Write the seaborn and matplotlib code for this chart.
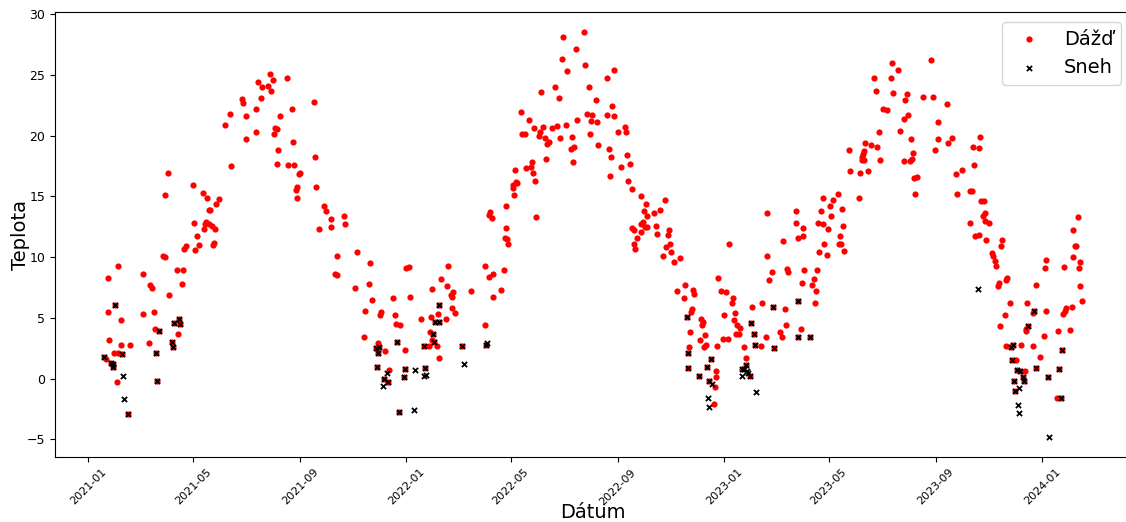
import matplotlib
matplotlib.use("Agg")
import matplotlib.pyplot as plt
import matplotlib.dates as mdates
import seaborn as sns
import pandas as pd

# dni iba s dazdom (datum, teplota)
rain_only = [
    ("2021-04-02", 16.9), ("2021-05-01", 15.9), ("2021-03-30", 15.1), ("2021-05-02", 12.8),
    ("2021-04-21", 10.7), ("2021-04-23", 10.9), ("2021-05-03", 10.6), ("2021-03-28", 10.1),
    ("2021-03-30", 10.0), ("2021-02-04", 9.3), ("2021-01-23", 8.3), ("2021-03-05", 8.6),
    ("2021-04-13", 8.9), ("2021-04-20", 8.9), ("2021-03-13", 7.7), ("2021-03-15", 7.5),
    ("2021-04-19", 7.8), ("2021-04-04", 6.9), ("2021-01-24", 5.5), ("2021-03-05", 5.3),
    ("2021-03-17", 5.5), ("2021-02-07", 4.8), ("2021-03-18", 4.1), ("2021-04-14", 3.7),
    ("2021-01-25", 3.2), ("2021-02-08", 2.8), ("2021-02-18", 2.8), ("2021-03-12", 2.9),
    ("2021-01-30", 2.1), ("2021-02-04", 2.1), ("2021-01-21", 1.6), ("2021-02-03", -0.3),
    ("2021-05-13", 15.3), ("2021-05-17", 14.9), ("2021-05-31", 14.8), ("2021-05-28", 14.4),
    ("2021-05-19", 13.9), ("2021-05-21", 13.9), ("2021-05-16", 12.9), ("2021-05-15", 12.7),
    ("2021-05-19", 12.7), ("2021-05-23", 12.6), ("2021-05-26", 12.3), ("2021-05-14", 12.3),
    ("2021-05-06", 11.7), ("2021-05-08", 11.0), ("2021-05-24", 11.0), ("2021-05-25", 11.2),
    ("2021-06-14", 17.5), ("2021-06-07", 20.9), ("2021-06-13", 21.8), ("2021-06-26", 23.0),
    ("2021-06-27", 22.7), ("2021-07-01", 21.6), ("2021-07-01", 19.7), ("2021-07-12", 20.3),
    ("2021-07-13", 22.2), ("2021-07-18", 23.1), ("2021-07-15", 24.4), ("2021-07-19", 24.0),
    ("2021-07-26", 24.1), ("2021-07-29", 25.1), ("2021-08-01", 24.6), ("2021-07-30", 23.7),
    ("2021-08-17", 24.7), ("2021-08-09", 21.6), ("2021-08-03", 20.6), ("2021-08-05", 20.5),
    ("2021-08-02", 20.1), ("2021-08-23", 22.2), ("2021-08-24", 19.5), ("2021-08-07", 18.8),
    ("2021-08-06", 17.7), ("2021-08-18", 17.6), ("2021-08-25", 17.6), ("2021-09-01", 16.9),
    ("2021-08-31", 16.8), ("2021-08-28", 15.8), ("2021-08-27", 15.5), ("2021-08-28", 14.9),
    ("2021-09-17", 22.8), ("2021-09-18", 18.2), ("2021-09-19", 15.8), ("2021-09-23", 12.3),
    ("2021-09-29", 14.2), ("2021-10-01", 13.8), ("2021-10-07", 13.1), ("2021-10-22", 13.4),
    ("2021-10-07", 12.5), ("2021-10-23", 12.7), ("2021-10-13", 10.1), ("2021-11-05", 10.4),
    ("2021-11-20", 9.5), ("2021-10-11", 8.6), ("2021-10-14", 8.5), ("2021-11-03", 7.5),
    ("2021-11-19", 7.8), ("2022-01-01", 9.1), ("2022-01-04", 9.2), ("2022-02-18", 9.3),
    ("2021-11-23", 6.5), ("2021-12-17", 6.6), ("2022-01-05", 6.7), ("2021-11-15", 5.6),
    ("2021-12-03", 5.5), ("2021-12-02", 5.2), ("2021-12-19", 5.2), ("2021-12-20", 4.5),
    ("2021-12-25", 4.4), ("2021-11-14", 3.4), ("2021-11-29", 2.9), ("2021-12-07", 2.3),
    ("2021-12-31", 2.4), ("2021-12-12", 0.7), ("2022-01-18", 4.9), ("2022-01-29", 5.1),
    ("2022-02-06", 5.3), ("2022-02-10", 8.2), ("2022-01-31", 7.4), ("2022-02-17", 7.6),
    ("2022-02-24", 7.1), ("2022-02-21", 6.9), ("2022-02-23", 6.7), ("2022-03-16", 7.2),
    ("2022-02-22", 5.8), ("2022-02-26", 5.4), ("2022-02-16", 4.9), ("2022-01-28", 3.8),
    ("2022-01-30", 3.2), ("2022-01-27", 2.7), ("2022-02-05", 2.7), ("2022-02-07", 1.7),
    ("2022-04-01", 9.3), ("2022-04-06", 8.4), ("2022-04-10", 8.6), ("2022-04-23", 8.9),
    ("2022-04-20", 7.3), ("2022-04-11", 6.7), ("2022-04-01", 4.4),
    ("2022-06-30", 28.1), ("2022-07-24", 28.5), ("2022-07-15", 27.1), ("2022-06-29", 26.3),
    ("2022-07-05", 25.3), ("2022-07-25", 25.8), ("2022-08-28", 25.4), ("2022-08-20", 24.7),
    ("2022-06-05", 23.6), ("2022-06-21", 24.0), ("2022-06-25", 23.1), ("2022-07-30", 24.0),
    ("2022-08-07", 22.9), ("2022-08-25", 22.4), ("2022-05-13", 21.9), ("2022-05-22", 21.3),
    ("2022-05-28", 20.6), ("2022-06-07", 20.7), ("2022-05-14", 20.1), ("2022-05-17", 20.1),
    ("2022-06-02", 20.0), ("2022-06-03", 20.3), ("2022-06-09", 19.8), ("2022-06-14", 19.5),
    ("2022-06-11", 19.3), ("2022-06-17", 20.6), ("2022-06-23", 20.8), ("2022-07-03", 20.9),
    ("2022-06-26", 19.8), ("2022-07-16", 21.3), ("2022-07-27", 21.8), ("2022-08-02", 21.7),
    ("2022-08-01", 21.2), ("2022-08-08", 21.1), ("2022-07-31", 20.1), ("2022-07-10", 19.9),
    ("2022-07-09", 18.9), ("2022-07-13", 19.1), ("2022-07-11", 17.8), ("2022-06-10", 18.1),
    ("2022-08-09", 19.2), ("2022-08-20", 21.7), ("2022-08-28", 21.6), ("2022-08-22", 18.9),
    ("2022-08-24", 18.2), ("2022-09-01", 20.3), ("2022-09-09", 20.7), ("2022-09-10", 20.3),
    ("2022-09-11", 18.4), ("2022-09-15", 17.7), ("2022-09-05", 17.4), ("2022-08-23", 16.7),
    ("2022-09-12", 16.3), ("2022-09-17", 15.6), ("2022-09-27", 15.0), ("2022-10-03", 14.4),
    ("2022-10-01", 13.8), ("2022-10-04", 13.4), ("2022-09-17", 12.4), ("2022-09-19", 12.2),
    ("2022-09-30", 12.9), ("2022-10-02", 12.5), ("2022-10-04", 12.5), ("2022-09-28", 12.1),
    ("2022-09-23", 11.6), ("2022-09-20", 11.1), ("2022-09-21", 10.7), ("2022-05-06", 17.2),
    ("2022-05-18", 17.3), ("2022-05-24", 17.4), ("2022-05-25", 17.8), ("2022-05-26", 16.9),
    ("2022-05-29", 16.3), ("2022-05-07", 16.2), ("2022-05-08", 16.1), ("2022-05-04", 15.9),
    ("2022-05-03", 15.7), ("2022-05-05", 15.1), ("2022-04-25", 14.2), ("2022-04-07", 13.7),
    ("2022-04-06", 13.5), ("2022-04-09", 13.2), ("2022-05-30", 13.3), ("2022-04-26", 12.4),
    ("2022-04-24", 11.6), ("2022-04-27", 11.5), ("2022-04-28", 11.1),
    ("2022-09-28", 12.7), ("2022-10-25", 14.7), ("2022-10-19", 13.9), ("2022-10-12", 13.6),
    ("2022-10-15", 12.6), ("2022-10-16", 11.9), ("2022-10-30", 12.2), ("2022-10-29", 11.8),
    ("2022-10-31", 11.1), ("2022-10-26", 10.8), ("2022-11-01", 10.4), ("2022-10-23", 10.1),
    ("2022-11-04", 9.6), ("2022-11-11", 9.9), ("2023-01-06", 11.1), ("2023-02-19", 13.6),
    ("2023-03-25", 13.8), ("2023-03-25", 12.8), ("2023-03-27", 11.6), ("2023-03-10", 11.3),
    ("2023-02-19", 10.1), ("2023-02-25", 8.8), ("2023-03-14", 9.0), ("2023-03-15", 8.8),
    ("2023-02-21", 8.1), ("2022-12-25", 8.3), ("2022-12-28", 7.2), ("2023-01-03", 7.1),
    ("2023-01-11", 6.6), ("2023-01-10", 6.2), ("2023-01-01", 5.2), ("2023-01-13", 5.4),
    ("2023-01-12", 4.8), ("2023-01-16", 4.4), ("2023-01-19", 4.2), ("2023-01-15", 3.7),
    ("2023-01-18", 3.7), ("2022-12-31", 3.3), ("2023-01-05", 3.3), ("2022-12-24", 2.7),
    ("2023-01-24", 2.6), ("2023-02-12", 2.7), ("2023-02-18", 3.4), ("2023-02-02", 5.9),
    ("2023-02-13", 6.2), ("2023-03-12", 5.7), ("2023-03-13", 4.4), ("2023-03-06", 3.8),
    ("2023-03-08", 3.4), ("2023-01-26", 1.7), ("2022-11-08", 7.2), ("2022-11-17", 7.7),
    ("2022-11-16", 6.6), ("2022-11-26", 7.3), ("2022-11-27", 7.0), ("2022-11-25", 5.7),
    ("2022-11-24", 5.5), ("2022-12-05", 4.9), ("2022-12-08", 4.7), ("2022-12-07", 4.4),
    ("2022-11-23", 3.8), ("2022-12-10", 3.6), ("2022-12-04", 3.2), ("2022-12-11", 2.8),
    ("2022-12-09", 2.6), ("2022-11-22", 2.6), ("2022-12-23", 0.6), ("2022-12-23", 0.1),
    ("2022-12-21", -0.7), ("2022-12-20", -2.1),
    ("2023-08-26", 26.2), ("2023-07-13", 26.0), ("2023-07-20", 25.4), ("2023-06-22", 24.7),
    ("2023-07-11", 24.7), ("2023-06-24", 23.7), ("2023-07-14", 23.5), ("2023-07-30", 23.4),
    ("2023-07-28", 22.9), ("2023-08-17", 23.2), ("2023-08-29", 23.2), ("2023-09-14", 22.6),
    ("2023-07-02", 22.2), ("2023-07-07", 22.1), ("2023-07-31", 21.7), ("2023-07-26", 21.4),
    ("2023-09-03", 21.1), ("2023-06-28", 20.3), ("2023-07-22", 20.4), ("2023-08-04", 19.7),
    ("2023-09-04", 19.7), ("2023-09-20", 19.8), ("2023-09-15", 19.4), ("2023-08-31", 18.8),
    ("2023-06-12", 19.4), ("2023-06-18", 19.2), ("2023-06-25", 19.1), ("2023-05-24", 18.8),
    ("2023-06-11", 18.7), ("2023-06-09", 18.5), ("2023-06-08", 18.2), ("2023-06-08", 18.0),
    ("2023-06-10", 18.0), ("2023-06-29", 18.0), ("2023-08-06", 18.6), ("2023-08-05", 18.1),
    ("2023-08-02", 17.9), ("2023-07-27", 17.9), ("2023-05-25", 17.1), ("2023-06-06", 16.9),
    ("2023-06-15", 17.1), ("2023-08-07", 16.5), ("2023-08-10", 16.6), ("2023-09-24", 16.8),
    ("2023-08-08", 15.2), ("2023-09-25", 15.2), ("2023-06-05", 14.9), ("2023-05-12", 15.2),
    ("2023-05-06", 14.7), ("2023-04-24", 14.9), ("2023-05-03", 14.2), ("2023-05-16", 14.0),
    ("2023-04-22", 13.8), ("2023-05-04", 13.4), ("2023-04-02", 12.4), ("2023-04-01", 11.7),
    ("2023-04-19", 12.8), ("2023-04-25", 12.7), ("2023-04-30", 12.3), ("2023-05-17", 12.6),
    ("2023-05-14", 11.7), ("2023-05-13", 11.1), ("2023-05-15", 11.1), ("2023-04-26", 11.1),
    ("2023-04-20", 10.4), ("2023-04-29", 10.2), ("2023-05-18", 10.5), ("2023-04-03", 8.9),
    ("2023-04-17", 8.9), ("2023-04-14", 8.2), ("2023-04-12", 7.7), ("2023-03-31", 7.9),
    ("2023-04-16", 7.2), ("2023-04-15", 6.2), ("2023-03-30", 4.1),
    ("2023-10-22", 19.9), ("2023-10-14", 19.1), ("2023-10-21", 19.0),
    ("2023-10-15", 17.6), ("2023-10-01", 17.2), ("2023-10-10", 15.4), ("2023-10-12", 15.4),
    ("2023-10-23", 14.6), ("2023-10-26", 14.6), ("2023-10-27", 13.6), ("2023-10-25", 13.4),
    ("2023-10-28", 13.0), ("2023-11-01", 12.8), ("2023-10-10", 12.8), ("2023-10-16", 11.7),
    ("2023-10-20", 11.8), ("2023-10-29", 11.4), ("2023-11-16", 11.4), ("2023-11-15", 10.9),
    ("2023-11-04", 10.3), ("2023-11-06", 10.1), ("2023-11-08", 9.7), ("2023-11-09", 9.3),
    ("2023-11-22", 8.3), ("2023-11-21", 8.1), ("2023-11-12", 7.9), ("2023-11-11", 7.6),
    ("2023-12-25", 7.7), ("2024-01-05", 9.8), ("2024-01-04", 9.1), ("2024-01-26", 9.2),
    ("2024-02-11", 13.3), ("2024-02-06", 12.2), ("2024-02-08", 10.9), ("2024-02-09", 10.9),
    ("2024-02-05", 10.0), ("2024-02-13", 9.6), ("2024-02-12", 9.1), ("2024-02-14", 7.6),
    ("2024-02-16", 6.4), ("2023-11-25", 6.2), ("2023-12-15", 6.2), ("2023-11-19", 5.2),
    ("2023-11-14", 4.3), ("2023-12-22", 5.4), ("2024-01-06", 5.6), ("2024-01-28", 5.8),
    ("2024-01-27", 5.6), ("2024-01-25", 5.3), ("2024-02-04", 5.9), ("2023-12-14", 4.1),
    ("2023-12-13", 3.9), ("2024-01-19", 3.9), ("2024-02-02", 4.0), ("2024-01-03", 3.5),
    ("2023-11-20", 2.7), ("2023-12-08", 2.8), ("2023-12-21", 2.7), ("2023-12-30", 1.8),
    ("2023-12-02", 1.5), ("2023-12-12", 0.6), ("2024-01-18", -1.6),
]

# dni s dazdom aj snehom
rain_and_snow = [
    ("2021-01-31", 6.1), ("2021-03-23", 3.9), ("2021-04-09", 4.6), ("2021-04-15", 4.9),
    ("2021-04-16", 4.5), ("2021-04-07", 3.0), ("2021-04-08", 2.6), ("2021-01-19", 1.8),
    ("2021-01-27", 1.3), ("2021-01-29", 1.2), ("2021-01-29", 1.0), ("2021-02-09", 2.0),
    ("2021-03-20", 2.1), ("2021-03-21", -0.2), ("2021-02-16", -2.9),
    ("2022-02-08", 6.1), ("2022-02-03", 4.7), ("2022-02-08", 4.7), ("2022-02-01", 3.7),
    ("2022-02-02", 3.0), ("2022-01-21", 2.7), ("2022-03-06", 2.7), ("2021-12-21", 3.0),
    ("2021-11-27", 2.5), ("2021-12-01", 2.6), ("2021-11-30", 2.1), ("2021-11-28", 1.0),
    ("2021-12-06", 0.0), ("2021-12-11", -0.3), ("2021-12-30", 0.8), ("2021-12-29", 0.1),
    ("2022-01-23", 0.9), ("2021-12-24", -2.7), ("2022-04-03", 2.8),
    ("2022-11-19", 5.1), ("2022-11-21", 2.1), ("2022-11-20", 0.9), ("2022-12-03", 0.2),
    ("2022-12-12", 1.0), ("2022-12-17", 1.6), ("2022-12-15", -0.2), ("2023-02-01", 4.6),
    ("2023-02-04", 3.7), ("2023-02-05", 2.8), ("2023-02-26", 5.9), ("2023-02-27", 2.5),
    ("2023-03-27", 6.4), ("2023-03-27", 3.4), ("2023-01-26", 1.1), ("2023-01-22", 0.8),
    ("2023-01-31", 0.2), ("2023-04-09", 3.4),
    ("2023-12-23", 5.6), ("2023-12-16", 4.3), ("2023-11-26", 2.6), ("2023-11-29", 2.8),
    ("2024-01-24", 2.4), ("2023-11-27", 1.5), ("2023-12-03", 0.7), ("2023-12-07", 0.6),
    ("2023-12-10", 0.1), ("2023-12-11", -0.2), ("2023-12-25", 0.9), ("2024-01-20", 0.8),
    ("2024-01-08", 0.1), ("2023-11-30", -0.2), ("2023-12-01", -1.0), ("2024-01-23", -1.6),
]

# dni iba so snehom
snow_only = [
    ("2021-02-10", 0.2), ("2021-02-11", -1.7),
    ("2022-03-08", 1.2), ("2021-12-10", 0.5), ("2021-12-05", -0.6), ("2022-01-11", 0.7),
    ("2022-01-21", 0.2), ("2022-01-24", 0.3), ("2022-01-10", -2.6), ("2022-04-04", 2.9),
    ("2022-12-18", -0.4), ("2022-12-13", -1.6), ("2022-12-15", -2.3), ("2023-01-24", 0.8),
    ("2023-01-27", 0.6), ("2023-01-28", 0.5), ("2023-01-21", 0.2), ("2023-02-06", -1.1),
    ("2023-10-19", 7.4), ("2023-12-06", -0.8), ("2023-12-04", -2.2), ("2023-12-05", -2.8),
    ("2024-01-09", -4.8),
]

def to_frame(rows):
    df = pd.DataFrame(rows, columns=["Dátum", "Teplota"])
    df["Dátum"] = pd.to_datetime(df["Dátum"])
    return df

rain = to_frame(rain_only + rain_and_snow)
snow = to_frame(snow_only + rain_and_snow)

fig, ax = plt.subplots(figsize=(11.26, 5.22), dpi=100)
sns.scatterplot(data=rain, x="Dátum", y="Teplota", color="red", s=20, linewidth=0, label="Dážď", ax=ax)
sns.scatterplot(data=snow, x="Dátum", y="Teplota", color="black", marker="x", s=14, linewidth=1.3, label="Sneh", ax=ax)

ax.xaxis.set_major_locator(mdates.MonthLocator(bymonth=[1, 5, 9]))
ax.xaxis.set_major_formatter(mdates.DateFormatter("%Y-%m"))
ax.tick_params(axis="y", labelsize=9)
ax.tick_params(axis="x", labelsize=8)
plt.xticks(rotation=45)
ax.set_xlabel("Dátum", fontsize=14)
ax.set_ylabel("Teplota", fontsize=14)
ax.xaxis.set_label_coords(0.5, -0.103)
ax.yaxis.set_label_coords(-0.023, 0.5)
ax.legend(loc="upper right", fontsize=14)

# os siaha kusok za pravy okraj obrazka
fig.subplots_adjust(left=0.049, right=1.0045, top=0.977, bottom=0.124)
fig.savefig("out.png", dpi=100)
